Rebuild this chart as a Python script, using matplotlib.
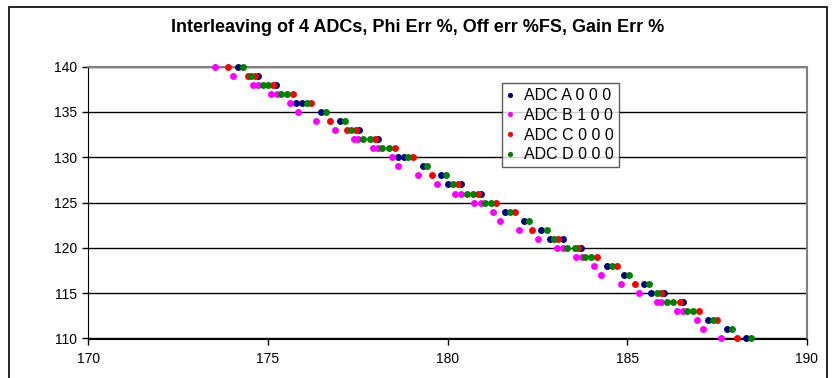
import matplotlib
matplotlib.use("Agg")
import matplotlib.pyplot as plt
from matplotlib.patches import Rectangle

plt.rcParams['font.family'] = ['Liberation Sans', 'DejaVu Sans']

# ADC A (blue)
a_x = [174.15, 174.71, 175.23, 175.77, 175.94, 176.46, 176.99, 177.53, 178.07,
       178.61, 178.77, 179.30, 179.82, 180.01, 180.37, 180.92, 181.59, 182.12,
       182.61, 182.84, 183.21, 183.70, 184.42, 184.91, 185.46, 185.67, 186.02,
       186.54, 187.25, 187.76, 188.30]
a_y = [140, 139, 138, 136, 136, 135, 134, 133, 132,
       130, 130, 129, 128, 127, 127, 126, 124, 123,
       122, 121, 121, 120, 118, 117, 116, 115, 115,
       114, 112, 111, 110]

# ADC B (magenta)
b_x = [173.52, 174.03, 174.57, 174.73, 175.08, 175.25, 175.61, 175.82, 176.33,
       176.86, 177.40, 177.49, 177.91, 178.06, 178.45, 178.62, 179.16, 179.71,
       180.20, 180.37, 180.73, 180.92, 181.25, 181.45, 181.99, 182.50, 183.03,
       183.21, 183.57, 183.73, 184.08, 184.28, 184.82, 185.33, 185.82, 185.95,
       186.37, 186.55, 186.93, 187.11, 187.62]
b_y = [140, 139, 138, 138, 137, 137, 136, 135, 134,
       133, 132, 132, 131, 131, 130, 129, 128, 127,
       126, 126, 125, 125, 124, 123, 122, 121, 120,
       120, 119, 119, 118, 117, 116, 115, 114, 114,
       113, 113, 112, 111, 110]

# ADC C (red)
c_x = [173.89, 174.43, 174.64, 175.14, 175.69, 176.20, 176.73, 177.21, 177.45,
       177.99, 178.53, 179.04, 179.56, 180.29, 180.85, 181.34, 181.87, 182.36,
       183.07, 183.63, 184.16, 184.70, 185.21, 185.95, 186.46, 187.00, 187.50,
       188.04]
c_y = [140, 139, 139, 138, 137, 136, 134, 133, 133,
       132, 131, 130, 128, 127, 126, 125, 124, 122,
       121, 120, 119, 118, 116, 115, 114, 113, 112,
       110]

# ADC D (green)
d_x = [174.29, 174.52, 174.86, 175.00, 175.36, 175.54, 176.09, 176.60, 177.14,
       177.30, 177.63, 177.84, 178.16, 178.37, 178.90, 179.43, 179.94, 180.14,
       180.53, 180.71, 181.04, 181.20, 181.73, 182.26, 182.77, 182.96, 183.33,
       183.53, 183.82, 184.00, 184.56, 185.05, 185.60, 185.83, 186.11, 186.27,
       186.65, 186.83, 187.37, 187.90, 188.44]
d_y = [140, 139, 138, 138, 137, 137, 136, 135, 134,
       133, 132, 132, 131, 131, 130, 129, 128, 127,
       126, 126, 125, 125, 124, 123, 122, 121, 120,
       120, 119, 119, 118, 117, 116, 115, 114, 114,
       113, 113, 112, 111, 110]

labels = ['ADC A 0 0 0', 'ADC B 1 0 0', 'ADC C 0 0 0', 'ADC D 0 0 0']
colors = ['#000080', '#FF00FF', '#FF0000', '#008000']
title = 'Interleaving of 4 ADCs, Phi Err %, Off err %FS, Gain Err %'

W, H = 835, 378
fig = plt.figure(figsize=(W/100, H/100), dpi=100)

# chart border
fig.patches.append(Rectangle((9/W, -0.05), 818/W, 1.05 - 7/H, transform=fig.transFigure,
                             fill=False, edgecolor='black', linewidth=1.2))

ax = fig.add_axes([88.4/W, 1 - 338.5/H, (807 - 88.4)/W, (338.5 - 66.7)/H])

for xs, ys, col, lab in zip([a_x, b_x, c_x, d_x], [a_y, b_y, c_y, d_y], colors, labels):
    ax.plot(xs, ys, linestyle='none', marker='o', ms=5, mfc=col, mec=col, mew=0,
            label=lab, zorder=3, clip_on=False)

ax.set_xlim(170, 190)
ax.set_ylim(110, 140)
ax.set_xticks([170, 175, 180, 185, 190])
ax.set_yticks([110, 115, 120, 125, 130, 135, 140])
ax.yaxis.grid(True, color='black', linewidth=1)
ax.set_axisbelow(True)
for s in ['top', 'right']:
    ax.spines[s].set_color('#808080')
    ax.spines[s].set_linewidth(1.5)
ax.spines['left'].set_color('black')
ax.spines['bottom'].set_color('black')
ax.tick_params(direction='out', length=4, width=1, labelsize=10)
ax.tick_params(axis='x', pad=6)
ax.tick_params(axis='y', pad=4)

leg = fig.legend(loc='upper left', bbox_to_anchor=(501.7/W, 1 - 83.3/H),
                 frameon=True, fancybox=False, fontsize=11.5, markerscale=0.75,
                 handlelength=0.5, handletextpad=0.6, borderpad=0.3,
                 labelspacing=0.3, borderaxespad=0)
leg.get_frame().set_edgecolor('#333333')
leg.get_frame().set_linewidth(1)

fig.text(418/W, 1 - 27/H, title, ha='center', va='center', fontsize=13, fontweight='bold')

fig.savefig('out.png', dpi=100)
